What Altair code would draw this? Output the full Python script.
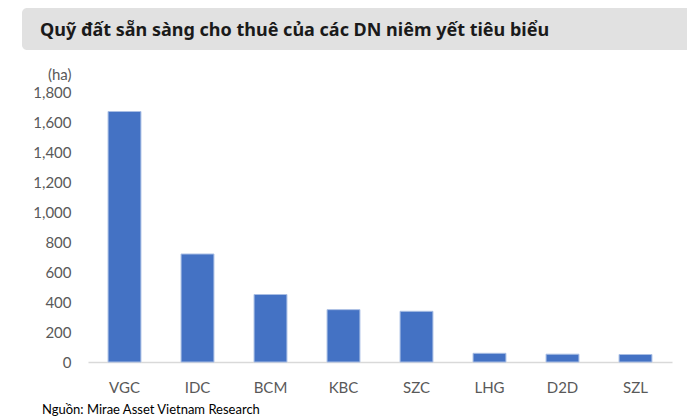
import altair as alt
import pandas as pd

categories = ["VGC", "IDC", "BCM", "KBC", "SZC", "LHG", "D2D", "SZL"]
values = [1670, 720, 450, 349, 338, 58, 52, 50]
y_ticks = [0, 200, 400, 600, 800, 1000, 1200, 1400, 1600, 1800]
title_text = "Quỹ đất sẵn sàng cho thuê của các DN niêm yết tiêu biểu"
source_text = "Nguồn: Mirae Asset Vietnam Research"
unit_label = "(ha)"

df = pd.DataFrame({"company": categories, "area": values})

AXIS_FONT = "Lato"
AXIS_COLOR = "#595959"

box = alt.Chart(pd.DataFrame({"k": [0]})).mark_rect(
    color="#E1E1E1", cornerRadius=5
).encode(
    x=alt.value(-66), x2=alt.value(607), y=alt.value(-84), y2=alt.value(-42)
)

title = alt.Chart(pd.DataFrame({"t": [title_text]})).mark_text(
    align="left", baseline="alphabetic", font="Noto Sans", fontWeight="bold",
    fontSize=18, color="#1A1A1A"
).encode(x=alt.value(-48), y=alt.value(-56), text="t:N")

source = alt.Chart(pd.DataFrame({"t": [source_text]})).mark_text(
    align="left", baseline="alphabetic", font=AXIS_FONT, fontSize=13, color="#000000"
).encode(x=alt.value(-46), y=alt.value(322), text="t:N")

bars = alt.Chart(df).mark_bar(
    color="#4472C4", stroke="#A9BEE4", strokeWidth=1
).encode(
    x=alt.X(
        "company:N", sort=categories,
        scale=alt.Scale(paddingInner=0.55, paddingOuter=0.275),
        axis=alt.Axis(
            title=None, labelAngle=0, labelFont=AXIS_FONT, labelFontSize=15,
            labelColor=AXIS_COLOR, labelPadding=18, ticks=False,
            domainColor="#D9D9D9", domainWidth=1.5,
        ),
    ),
    y=alt.Y(
        "area:Q", scale=alt.Scale(domain=[0, 1800], nice=False),
        axis=alt.Axis(
            values=y_ticks, format=",.0f", title=unit_label, titleAngle=0,
            titleAlign="right", titleBaseline="middle", titleX=-17, titleY=-18,
            titleFont=AXIS_FONT, titleFontSize=15, titleFontWeight="normal",
            titleColor=AXIS_COLOR, labelFont=AXIS_FONT, labelFontSize=15,
            labelColor=AXIS_COLOR, labelPadding=17, ticks=False, domain=False,
            grid=False,
        ),
    ),
)

chart = alt.layer(box, title, source, bars).properties(
    width=584, height=270,
    padding={"left": 80, "top": 84, "right": 15, "bottom": 56},
    autosize="none", background="white",
).configure_view(stroke=None)

chart.save("out.html", embed_options={"renderer": "svg", "actions": False})
